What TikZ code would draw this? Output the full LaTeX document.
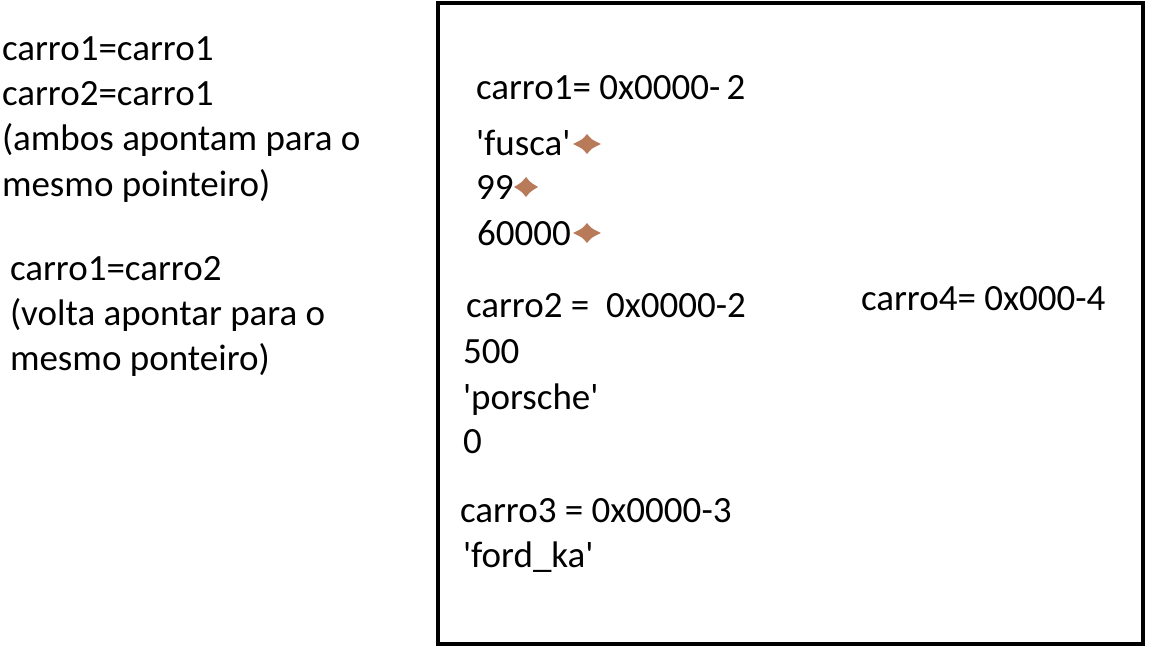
\documentclass[tikz,border=0pt]{standalone}
\usepackage{fontspec}
\setmainfont{Carlito}
\usetikzlibrary{calc}
\definecolor{starbrown}{HTML}{B97A59}
\tikzset{
  txt/.style={anchor=base west, inner sep=0pt, outer sep=0pt, font=\fontsize{37}{44}\selectfont},
  frame/.style={draw=black, line width=4pt},
}
\newcommand{\q}{\textquotesingle}
% four-pointed marker: #1 centre, #2 half width, #3 half height
\newcommand{\sparkle}[3]{%
  \fill[starbrown] ($(#1)+(0,-#3)$) .. controls ($(#1)+(4.5,-4.5)$) .. ($(#1)+(#2,0)$)
    .. controls ($(#1)+(4.5,4.5)$) .. ($(#1)+(0,#3)$)
    .. controls ($(#1)+(-4.5,4.5)$) .. ($(#1)+(-#2,0)$)
    .. controls ($(#1)+(-4.5,-4.5)$) .. cycle;}
\begin{document}
\begin{tikzpicture}[x=1pt,y=-1pt]
  \useasboundingbox[fill=white] (0,0) rectangle (1152,648);

  % memory frame
  \draw[frame] (438,3) rectangle (1143,644);

  % assignment notes on the left
  \node[txt] (n1) at (2,60) {carro1=carro1};
  \node[txt] (n2) at (2,105) {carro2=carro1};
  \node[txt] (n3) at (2,150) {(ambos apontam para o};
  \node[txt] (n4) at (2,196) {mesmo pointeiro)};
  \node[txt] (n5) at (10,280) {carro1=carro2};
  \node[txt] (n6) at (10,325) {(volta apontar para o};
  \node[txt] (n7) at (10,370) {mesmo ponteiro)};

  % objects in memory
  \node[txt] (c1) at (476,99) {carro1= 0x0000-\,2};
  \node[txt] (f1) at (476,155) {\q fusca\q};
  \node[txt] (f2) at (476,199) {99};
  \node[txt] (f3) at (477,245) {60000};
  \coordinate (s1) at (587,144);
  \coordinate (s2) at (526,187);
  \coordinate (s3) at (587,233);
  \sparkle{s1}{14}{10}
  \sparkle{s2}{12}{10}
  \sparkle{s3}{14}{10}

  \node[txt] (c2) at (466,317) {carro2 =\ \ 0x0000-2};
  \node[txt] (c4) at (861,310) {carro4= 0x000-4};
  \node[txt] (p1) at (463,363) {500};
  \node[txt] (p2) at (463,409) {\q porsche\q};
  \node[txt] (p3) at (463,453) {0};

  \node[txt] (c3) at (460,522) {carro3 = 0x0000-3};
  \node[txt] (k1) at (463,567) {\q ford\_ka\q};
\end{tikzpicture}
\end{document}
